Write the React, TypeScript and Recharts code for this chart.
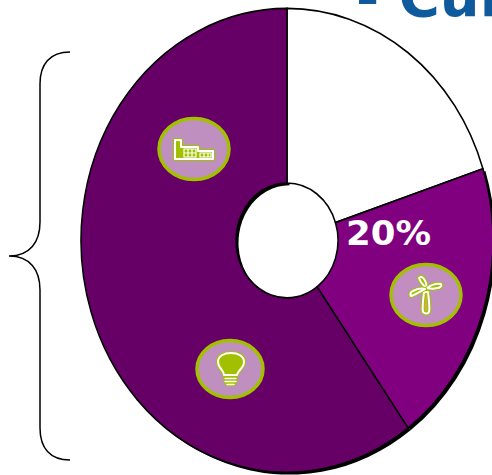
import { PieChart, Pie, Cell } from "recharts";

const sources = ["Other", "Wind", "Fossil"];
const shares = [20, 20, 60];
const colors = ["#ffffff", "#800080", "#660066"];
const shadows = ["none", "#000000", "#000000"];

const data = sources.map((name, i) => ({ name, value: shares[i] }));

const GREEN = "#a2c000";

const Badge = ({ cx, cy, rx, ry, fill }: { cx: number; cy: number; rx: number; ry: number; fill: string }) => (
  <ellipse cx={cx} cy={cy} rx={rx} ry={ry} fill={fill} stroke={GREEN} strokeWidth={3.5} />
);

// icon outline: green halo under a white line
const Glow = ({ d, fill = "none", w = 2 }: { d: string; fill?: string; w?: number }) => (
  <g strokeLinejoin="round" strokeLinecap="round">
    <path d={d} fill={fill} stroke={GREEN} strokeWidth={w + 2} />
    <path d={d} fill="none" stroke="#ffffff" strokeWidth={w} />
  </g>
);

export default function App() {
  return (
    <div style={{ position: "absolute", left: 0, top: 0, width: 492, height: 475, overflow: "hidden", background: "#fff" }}>
      <div style={{ position: "absolute", left: 0, top: 0, transform: "scaleY(1.126)", transformOrigin: "0 0" }}>
        <PieChart width={492} height={422} margin={{ top: 0, right: 0, bottom: 0, left: 0 }}>
          <Pie
            data={data}
            dataKey="value"
            cx={289.5}
            cy={215.5}
            innerRadius={51}
            outerRadius={206}
            startAngle={90}
            endAngle={-270}
            stroke="none"
            isAnimationActive={false}
          >
            {data.map((d, i) => (
              <Cell key={d.name} fill={shadows[i]} />
            ))}
          </Pie>
          <Pie
            data={data}
            dataKey="value"
            cx={287}
            cy={213.5}
            innerRadius={51}
            outerRadius={206}
            startAngle={90}
            endAngle={-270}
            stroke="#000000"
            strokeWidth={1.5}
            isAnimationActive={false}
          >
            {data.map((d, i) => (
              <Cell key={d.name} fill={colors[i]} />
            ))}
          </Pie>
        </PieChart>
      </div>
      <svg width={492} height={475} style={{ position: "absolute", left: 0, top: 0 }}>
        <text x={356} y={16} fontFamily="DejaVu Sans" fontWeight="bold" fontSize={56} fill="#0f5a9c">
          - Cur
        </text>
        <text x={346} y={245} fontFamily="DejaVu Sans" fontWeight="bold" fontSize={33} fill="#ffffff" textLength={85} lengthAdjust="spacingAndGlyphs">
          {shares[1]}%
        </text>
        <path
          d="M70 52 C50 52 40 64 40 84 L40 222 C40 242 30 256 9 256 C30 256 40 270 40 290 L40 428 C40 448 50 460 70 460"
          fill="none"
          stroke="#000"
          strokeWidth={1.5}
        />
        <Badge cx={194} cy={149} rx={35} ry={30.5} fill="#bf90bf" />
        <Glow fill={GREEN} d="M175 140 H181 V147 H198 V151 H213 V159 H175 Z" />
        <path d="M184 149 H196 V157 H184 Z M188 149 V157 M192 149 V157 M184 153 H196 M200 153 H211 V157 H200 Z M204 153 V157 M208 153 V157" stroke="#ffffff" strokeWidth={1.2} fill="none" />

        <Badge cx={426} cy={295} rx={35} ry={30.5} fill="#c28ec2" />
        <Glow fill="#cdb24f" d="M424 292 C423 300 422 308 423 312 C425 314 428 314 429 312 C430 308 429 300 428 292 Z" />
        <Glow d="M426 288 C423 285 420 281 419 278 C420 276 423 277 424 279 C426 282 427 285 426 288 Z" />
        <Glow d="M427 288 C431 285 437 283 441 284 C442 286 440 288 437 288 C434 289 431 289 427 288 Z" />
        <Glow d="M425 289 C421 291 415 295 411 296 C410 295 410 292 413 291 C417 289 421 288 425 289 Z" />

        <Badge cx={230} cy={369} rx={33} ry={28.5} fill="#bf90bf" />
        <Glow
          fill={GREEN}
          d="M224 375 C224 370 218 368 218 362 C218 356 224 353 231 353 C238 353 244 356 244 362 C244 368 238 370 237 375 Z"
        />
        <Glow w={1.5} d="M225 378.5 H236 M225 381.5 H236 M227 384.5 H234" />
      </svg>
    </div>
  );
}
